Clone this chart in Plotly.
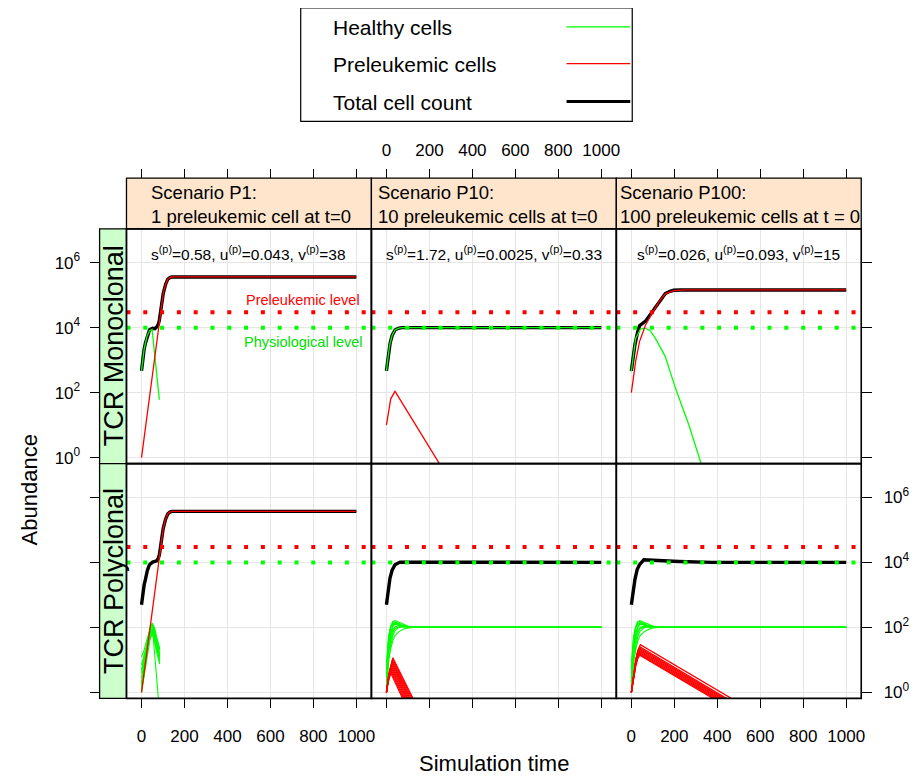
import plotly.graph_objects as go

W, H = 919, 779
OFF = 8  # page body margin in the browser
FW, FH = W - OFF, H - OFF

# ---------------- data (values are log10 of abundance) ----------------
TIME_TICKS = [0, 200, 400, 600, 800, 1000]
ABUND_TICKS = [1, 100, 10000, 1000000]
ABUND_TICKTEXT = ["10<sup>0</sup>", "10<sup>2</sup>", "10<sup>4</sup>", "10<sup>6</sup>"]
PRELEUKEMIC_LEVEL = 30000
PHYSIOLOGICAL_LEVEL = 10000

SCENARIO_TITLES = ["Scenario P1:", "Scenario P10:", "Scenario P100:"]
SCENARIO_SUBTITLES = ["1 preleukemic cell at t=0", "10 preleukemic cells at t=0",
                      "100 preleukemic cells at t = 0"]
TCR_TYPES = ["TCR Monoclonal", "TCR Polyclonal"]
PARAM_TEXT = ["s<sup>(p)</sup>=0.58, u<sup>(p)</sup>=0.043, v<sup>(p)</sup>=38",
              "s<sup>(p)</sup>=1.72, u<sup>(p)</sup>=0.0025, v<sup>(p)</sup>=0.33",
              "s<sup>(p)</sup>=0.026, u<sup>(p)</sup>=0.093, v<sup>(p)</sup>=15"]

# --- TCR monoclonal, P1
MONO_P1_TOTAL_T = [0, 6, 12, 18, 27, 37, 52, 62, 71, 78, 83, 92, 101, 112, 122, 132, 142, 1000]
MONO_P1_TOTAL = [2.67, 3.05, 3.33, 3.52, 3.76, 3.93, 3.98, 3.97, 4.02, 4.1, 4.23, 4.65, 5.05, 5.33, 5.49, 5.54, 5.56, 5.56]
MONO_P1_HEALTHY_T = [0, 6, 12, 18, 27, 37, 49, 83]
MONO_P1_HEALTHY = [2.67, 3.05, 3.33, 3.52, 3.76, 3.9, 3.95, 1.78]
MONO_P1_PRELEUK_T = [0, 80, 92, 101, 112, 122, 132, 142, 1000]
MONO_P1_PRELEUK = [0.0, 4.08, 4.65, 5.05, 5.33, 5.49, 5.54, 5.56, 5.56]

# --- TCR monoclonal, P10
MONO_P10_TOTAL_T = [0, 6, 12, 17, 27, 40, 55, 71, 1000]
MONO_P10_TOTAL = [2.67, 3.06, 3.32, 3.52, 3.77, 3.93, 3.98, 4.0, 4.0]
MONO_P10_HEALTHY_T = [0, 6, 12, 17, 27, 40, 55, 71, 1000]
MONO_P10_HEALTHY = [2.67, 3.06, 3.32, 3.52, 3.77, 3.93, 3.98, 4.0, 4.0]
MONO_P10_PRELEUK_T = [0, 20, 40, 300]
MONO_P10_PRELEUK = [1.0, 1.81, 2.04, -0.76]

# --- TCR monoclonal, P100
MONO_P100_TOTAL_T = [0, 6, 12, 16.5, 27, 38, 66, 97, 128, 158, 180, 197, 230, 1000]
MONO_P100_TOTAL = [2.67, 3.0, 3.3, 3.47, 3.8, 4.06, 4.2, 4.49, 4.81, 5.05, 5.12, 5.15, 5.16, 5.16]
MONO_P100_HEALTHY_T = [0, 10, 20, 43, 66, 89, 112, 158, 205, 267, 321, 340]
MONO_P100_HEALTHY = [2.65, 3.25, 3.67, 3.96, 3.98, 3.9, 3.67, 3.11, 2.14, 1.02, -0.1, -0.5]
MONO_P100_PRELEUK_T = [0, 10, 20, 38, 66, 97, 128, 158, 180, 197, 250, 1000]
MONO_P100_PRELEUK = [2.0, 2.55, 2.96, 3.57, 4.08, 4.44, 4.79, 5.04, 5.11, 5.14, 5.16, 5.16]

# --- TCR polyclonal, P1
POLY_P1_TOTAL_T = [0, 6, 12, 18, 27, 37, 52, 71, 78, 83, 92, 101, 112, 122, 132, 142, 1000]
POLY_P1_TOTAL = [2.7, 3.05, 3.3, 3.47, 3.75, 3.93, 4.01, 4.05, 4.12, 4.23, 4.65, 5.05, 5.33, 5.49, 5.55, 5.57, 5.57]
POLY_P1_PRELEUK_T = [0, 80, 92, 101, 112, 122, 132, 142, 1000]
POLY_P1_PRELEUK = [0.0, 4.08, 4.65, 5.05, 5.33, 5.49, 5.55, 5.57, 5.57]
POLY_P1_CLONE_T = [0, 10, 20, 30, 40, 50, 60, 70, 85]
POLY_P1_HEALTHY_CLONES = [
    [0.00, 0.55, 1.05, 1.50, 1.90, 2.10, 1.95, 1.65, 1.30],
    [0.30, 0.75, 1.20, 1.60, 1.95, 2.05, 1.85, 1.50, 1.10],
    [0.60, 0.95, 1.35, 1.70, 2.00, 2.14, 2.00, 1.70, 1.35],
    [0.85, 1.10, 1.40, 1.65, 1.85, 1.95, 1.75, 1.40, 0.95],
    [1.10, 1.25, 1.50, 1.75, 1.95, 2.05, 1.30, 0.30, -0.70],
    [0.15, 0.60, 1.00, 1.40, 1.70, 1.85, 1.70, 1.45, 1.15],
    [0.45, 0.90, 1.30, 1.65, 1.95, 2.08, 1.90, 1.55, 0.90],
    [0.00, 0.40, 0.85, 1.30, 1.65, 1.80, 1.60, 1.25, 0.87],
    [0.25, 0.70, 1.10, 1.55, 1.80, 1.98, 1.80, 1.60, 1.20],
    [0.70, 1.00, 1.30, 1.55, 1.78, 1.90, 1.65, 1.35, 1.05],
]

# --- TCR polyclonal, P10
POLY_P10_TOTAL_T = [0, 6, 12, 16.5, 27, 40, 63, 1000]
POLY_P10_TOTAL = [2.7, 3.07, 3.33, 3.52, 3.77, 3.93, 4.01, 4.0]
POLY_P10_CLONE_T = [0, 5, 10, 20, 30, 40, 60, 80, 100, 130, 170, 1000]
POLY_P10_HEALTHY_CLONES = [
    [0.00, 0.90, 1.50, 2.00, 2.18, 2.21, 2.15, 2.08, 2.04, 2.01, 2.00, 2.00],
    [0.30, 1.10, 1.65, 2.05, 2.17, 2.17, 2.10, 2.05, 2.02, 2.01, 2.00, 2.00],
    [0.60, 1.20, 1.70, 2.00, 2.12, 2.14, 2.09, 2.04, 2.02, 2.00, 2.00, 2.00],
    [0.90, 1.35, 1.75, 2.02, 2.10, 2.11, 2.07, 2.03, 2.01, 2.00, 2.00, 2.00],
    [0.00, 0.50, 0.95, 1.45, 1.75, 1.90, 2.00, 2.02, 2.01, 2.00, 2.00, 2.00],
    [0.20, 0.60, 1.00, 1.35, 1.60, 1.75, 1.88, 1.95, 1.98, 2.00, 2.00, 2.00],
    [0.45, 0.95, 1.35, 1.80, 2.02, 2.10, 2.08, 2.04, 2.01, 2.00, 2.00, 2.00],
    [0.75, 1.15, 1.50, 1.85, 2.05, 2.12, 2.06, 2.03, 2.01, 2.00, 2.00, 2.00],
    [0.10, 0.75, 1.25, 1.70, 1.92, 2.02, 2.05, 2.03, 2.01, 2.00, 2.00, 2.00],
    [0.35, 0.80, 1.20, 1.60, 1.85, 1.97, 2.02, 2.02, 2.01, 2.00, 2.00, 2.00],
]
POLY_P10_PRELEUK_CLONES_T = [
    [0, 12, 30, 140], [0, 12, 29, 135], [0, 12, 28, 130], [0, 11, 27, 125],
    [0, 10, 26, 120], [0, 10, 25, 115], [0, 10, 24, 110], [0, 9, 23, 105],
    [0, 8, 22, 100], [0, 8, 21, 95], [0, 8, 20, 90],
]
POLY_P10_PRELEUK_CLONES = [
    [0.0, 0.60, 1.07, -0.4], [0.0, 0.58, 1.03, -0.4], [0.0, 0.55, 0.98, -0.4],
    [0.0, 0.52, 0.94, -0.4], [0.0, 0.50, 0.90, -0.4], [0.0, 0.48, 0.85, -0.4],
    [0.0, 0.45, 0.80, -0.4], [0.0, 0.40, 0.75, -0.4], [0.0, 0.35, 0.70, -0.4],
    [0.0, 0.33, 0.65, -0.4], [0.0, 0.30, 0.60, -0.4],
]

# --- TCR polyclonal, P100
POLY_P100_TOTAL_T = [0, 6, 12, 16.5, 27, 38, 58, 112, 220, 375, 1000]
POLY_P100_TOTAL = [2.7, 3.02, 3.3, 3.47, 3.78, 3.93, 4.08, 4.06, 4.03, 4.0, 4.0]
POLY_P100_CLONE_T = [0, 5, 10, 20, 30, 40, 60, 80, 100, 130, 170, 1000]
POLY_P100_HEALTHY_CLONES = [
    [0.00, 0.85, 1.45, 1.98, 2.17, 2.21, 2.16, 2.09, 2.04, 2.01, 2.00, 2.00],
    [0.30, 1.05, 1.60, 2.03, 2.18, 2.18, 2.11, 2.05, 2.02, 2.01, 2.00, 2.00],
    [0.60, 1.15, 1.65, 2.00, 2.13, 2.15, 2.09, 2.04, 2.02, 2.00, 2.00, 2.00],
    [0.90, 1.30, 1.70, 2.00, 2.10, 2.12, 2.07, 2.03, 2.01, 2.00, 2.00, 2.00],
    [0.00, 0.45, 0.90, 1.40, 1.72, 1.88, 1.99, 2.02, 2.01, 2.00, 2.00, 2.00],
    [0.20, 0.55, 0.95, 1.30, 1.58, 1.74, 1.87, 1.94, 1.98, 2.00, 2.00, 2.00],
    [0.45, 0.90, 1.30, 1.78, 2.00, 2.09, 2.08, 2.04, 2.01, 2.00, 2.00, 2.00],
    [0.75, 1.10, 1.45, 1.83, 2.04, 2.12, 2.07, 2.03, 2.01, 2.00, 2.00, 2.00],
    [0.10, 0.70, 1.20, 1.68, 1.90, 2.00, 2.04, 2.03, 2.01, 2.00, 2.00, 2.00],
    [0.35, 0.78, 1.18, 1.58, 1.83, 1.96, 2.01, 2.02, 2.01, 2.00, 2.00, 2.00],
]
POLY_P100_PRELEUK_CLONES_T = [
    [0, 10, 20, 30, 42, 521], [0, 10, 20, 30, 42, 498], [0, 10, 20, 30, 41, 489],
    [0, 10, 20, 30, 41, 480], [0, 10, 20, 30, 40, 471], [0, 10, 20, 30, 40, 462],
    [0, 10, 20, 30, 40, 453], [0, 10, 20, 30, 39, 444], [0, 10, 20, 30, 39, 435],
]
POLY_P100_PRELEUK_CLONES = [
    [0.0, 0.60, 1.00, 1.30, 1.47, -0.4], [0.0, 0.58, 0.97, 1.26, 1.39, -0.4],
    [0.0, 0.56, 0.95, 1.23, 1.355, -0.4], [0.0, 0.55, 0.93, 1.20, 1.32, -0.4],
    [0.0, 0.53, 0.91, 1.17, 1.285, -0.4], [0.0, 0.52, 0.89, 1.14, 1.25, -0.4],
    [0.0, 0.50, 0.86, 1.11, 1.215, -0.4], [0.0, 0.48, 0.83, 1.08, 1.18, -0.4],
    [0.0, 0.46, 0.80, 1.05, 1.145, -0.4],
]

# ---------------- style / layout ----------------
FONT = "Liberation Sans, Arial, sans-serif"
GREEN, RED, BLACK = "#00FF00", "#FF0000", "#000000"
GRID = "#E6E6E6"
COLS = [(127, 373), (373, 619), (619, 865)]
ROWS = [(230, 466), (466, 702)]
STRIP_TEXT_X = [150, 378, 621]
XR = [-70, 1070]
YR = [-0.184, 7.04]
STRIP_TOP = 179
LEFT_STRIP_X = 100


def px(x):
    return (x - OFF) / FW


def py(y):
    return 1 - (y - OFF) / FH


def ab(vals):
    return [10 ** v for v in vals]


fig = go.Figure()


def add_line(k, t, logv, color, width):
    sfx = "" if k == 1 else str(k)
    fig.add_trace(go.Scatter(x=t, y=ab(logv), mode="lines",
                             line=dict(color=color, width=width),
                             xaxis="x" + sfx, yaxis="y" + sfx,
                             showlegend=False, hoverinfo="skip"))


mono = [
    (MONO_P1_TOTAL_T, MONO_P1_TOTAL, MONO_P1_HEALTHY_T, MONO_P1_HEALTHY, MONO_P1_PRELEUK_T, MONO_P1_PRELEUK),
    (MONO_P10_TOTAL_T, MONO_P10_TOTAL, MONO_P10_HEALTHY_T, MONO_P10_HEALTHY, MONO_P10_PRELEUK_T, MONO_P10_PRELEUK),
    (MONO_P100_TOTAL_T, MONO_P100_TOTAL, MONO_P100_HEALTHY_T, MONO_P100_HEALTHY, MONO_P100_PRELEUK_T, MONO_P100_PRELEUK),
]
for c, (tt, tv, ht, hv, pt, pv) in enumerate(mono):
    k = c + 1
    add_line(k, tt, tv, BLACK, 3.4)
    add_line(k, ht, hv, GREEN, 1.3)
    add_line(k, pt, pv, RED, 1.3)

add_line(4, POLY_P1_TOTAL_T, POLY_P1_TOTAL, BLACK, 3.4)
for cl in POLY_P1_HEALTHY_CLONES:
    add_line(4, POLY_P1_CLONE_T, cl, GREEN, 1.1)
add_line(4, POLY_P1_PRELEUK_T, POLY_P1_PRELEUK, RED, 1.3)

add_line(5, POLY_P10_TOTAL_T, POLY_P10_TOTAL, BLACK, 3.4)
for cl in POLY_P10_HEALTHY_CLONES:
    add_line(5, POLY_P10_CLONE_T, cl, GREEN, 1.1)
for t, cl in zip(POLY_P10_PRELEUK_CLONES_T, POLY_P10_PRELEUK_CLONES):
    add_line(5, t, cl, RED, 1.2)

add_line(6, POLY_P100_TOTAL_T, POLY_P100_TOTAL, BLACK, 3.4)
for cl in POLY_P100_HEALTHY_CLONES:
    add_line(6, POLY_P100_CLONE_T, cl, GREEN, 1.1)
for t, cl in zip(POLY_P100_PRELEUK_CLONES_T, POLY_P100_PRELEUK_CLONES):
    add_line(6, t, cl, RED, 1.3)

for k in range(1, 7):
    sfx = "" if k == 1 else str(k)
    for lvl, col in [(PRELEUKEMIC_LEVEL, RED), (PHYSIOLOGICAL_LEVEL, GREEN)]:
        fig.add_trace(go.Scatter(x=XR, y=[lvl, lvl], mode="lines",
                                 line=dict(color=col, width=4, dash="4px,12.8px"),
                                 xaxis="x" + sfx, yaxis="y" + sfx,
                                 showlegend=False, hoverinfo="skip"))

TICKFONT = dict(family=FONT, size=17, color="black")
layout_axes = {}
for r, (y0, y1) in enumerate(ROWS):
    for c, (x0, x1) in enumerate(COLS):
        k = r * 3 + c + 1
        sfx = "" if k == 1 else str(k)
        xa = dict(domain=[px(x0), px(x1)], range=XR, tickvals=TIME_TICKS,
                  showgrid=True, gridcolor=GRID, gridwidth=1, zeroline=False,
                  showline=False, ticks="outside", ticklen=9, tickwidth=1,
                  tickcolor="black", tickfont=TICKFONT, fixedrange=True)
        if r == 0:
            xa.update(anchor="free", position=py(STRIP_TOP), side="top",
                      showticklabels=(c == 1), ticklabelstandoff=6)
        else:
            xa.update(anchor="y" + sfx, side="bottom", showticklabels=(c != 1),
                      ticklabelstandoff=13)
        ya = dict(domain=[py(y1), py(y0)], type="log", range=YR,
                  tickvals=ABUND_TICKS, ticktext=ABUND_TICKTEXT,
                  showgrid=True, gridcolor=GRID, gridwidth=1, zeroline=False,
                  showline=False, ticklen=10, tickwidth=1, tickcolor="black",
                  tickfont=TICKFONT, fixedrange=True)
        if c == 0:
            ya.update(anchor="free", position=px(LEFT_STRIP_X), side="left",
                      ticks="outside", showticklabels=(r == 0), ticklabelstandoff=6)
        elif c == 2:
            ya.update(anchor="x" + sfx, side="right", ticks="outside",
                      showticklabels=(r == 1), ticklabelstandoff=8)
        else:
            ya.update(anchor="x" + sfx, ticks="", showticklabels=False)
        layout_axes["xaxis" + sfx] = xa
        layout_axes["yaxis" + sfx] = ya

shapes = []
annotations = []

for c, (x0, x1) in enumerate(COLS):
    shapes.append(dict(type="rect", xref="paper", yref="paper",
                       x0=px(x0), x1=px(x1), y0=py(ROWS[0][0]), y1=py(STRIP_TOP),
                       fillcolor="#FFE5CC", line=dict(color="black", width=1.3)))
    for txt, yy in [(SCENARIO_TITLES[c], 193), (SCENARIO_SUBTITLES[c], 218)]:
        annotations.append(dict(text=txt, xref="paper", yref="paper",
                                x=px(STRIP_TEXT_X[c]), y=py(yy),
                                xanchor="left", yanchor="middle", showarrow=False,
                                font=dict(family=FONT, size=18.5, color="black")))
    annotations.append(dict(text=PARAM_TEXT[c], xref="paper", yref="paper",
                            x=px((x0 + x1) / 2), y=py(254), xanchor="center",
                            yanchor="middle", showarrow=False,
                            font=dict(family=FONT, size=15.5, color="black")))

for r, (y0, y1) in enumerate(ROWS):
    shapes.append(dict(type="rect", xref="paper", yref="paper",
                       x0=px(LEFT_STRIP_X), x1=px(COLS[0][0]), y0=py(y1), y1=py(y0),
                       fillcolor="#CCFFCC", line=dict(color="black", width=1.3)))
    annotations.append(dict(text=TCR_TYPES[r], xref="paper", yref="paper",
                            x=px((LEFT_STRIP_X + COLS[0][0]) / 2 + 1), y=py((y0 + y1) / 2),
                            xanchor="center", yanchor="middle", textangle=-90,
                            showarrow=False,
                            font=dict(family=FONT, size=27, color="black")))

for (y0, y1) in ROWS:
    for (x0, x1) in COLS:
        shapes.append(dict(type="rect", xref="paper", yref="paper",
                           x0=px(x0), x1=px(x1), y0=py(y1), y1=py(y0),
                           line=dict(color="black", width=1.6), layer="above"))

annotations.append(dict(text="Preleukemic level", xref="paper", yref="paper",
                        x=px(304), y=py(302), xanchor="center", yanchor="middle",
                        showarrow=False, font=dict(family=FONT, size=14.5, color=RED)))
annotations.append(dict(text="Physiological level", xref="paper", yref="paper",
                        x=px(304), y=py(344), xanchor="center", yanchor="middle",
                        showarrow=False, font=dict(family=FONT, size=14.5, color="#00DD00")))

annotations.append(dict(text="Abundance", xref="paper", yref="paper",
                        x=px(30), y=py(492), xanchor="center", yanchor="middle",
                        textangle=-90, showarrow=False,
                        font=dict(family=FONT, size=22, color="black")))
annotations.append(dict(text="Simulation time", xref="paper", yref="paper",
                        x=px(496), y=py(767), xanchor="center", yanchor="middle",
                        showarrow=False, font=dict(family=FONT, size=22, color="black")))

LEGEND_ITEMS = [("Healthy cells", GREEN, 1.2, 28), ("Preleukemic cells", RED, 1.2, 65),
                ("Total cell count", BLACK, 3, 103)]
shapes.append(dict(type="rect", xref="paper", yref="paper", x0=px(302), x1=px(635),
                   y0=py(122), y1=py(8), line=dict(color="black", width=1.2)))
for label, col, w, yy in LEGEND_ITEMS:
    annotations.append(dict(text=label, xref="paper", yref="paper", x=px(332), y=py(yy),
                            xanchor="left", yanchor="middle", showarrow=False,
                            font=dict(family=FONT, size=21, color="black")))
    shapes.append(dict(type="line", xref="paper", yref="paper", x0=px(569), x1=px(633),
                       y0=py(yy - 1), y1=py(yy - 1), line=dict(color=col, width=w)))

fig.update_layout(width=FW, height=FH, margin=dict(l=0, r=0, t=0, b=0),
                  paper_bgcolor="white", plot_bgcolor="white",
                  shapes=shapes, annotations=annotations, showlegend=False,
                  font=dict(family=FONT, color="black"), **layout_axes)

fig.write_html("out.html")
